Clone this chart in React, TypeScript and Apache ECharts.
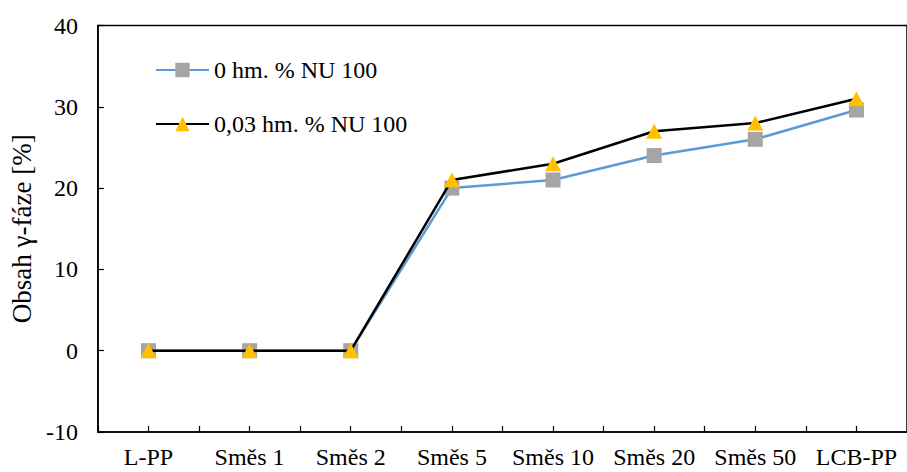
import React, { useEffect, useRef } from "react";
import * as echarts from "echarts";

const categories = ["L-PP", "Směs 1", "Směs 2", "Směs 5", "Směs 10", "Směs 20", "Směs 50", "LCB-PP"];
const series0 = [0, 0, 0, 20, 21, 24, 26, 29.6];
const series003 = [0, 0, 0, 21, 23, 27, 28, 31];
const seriesNames = ["0 hm. % NU 100", "0,03 hm. % NU 100"];
const tickSlots = Array.from({ length: categories.length * 2 }, () => "");
const yTitle = "Obsah γ-fáze [%]";

const FONT = "Liberation Serif";

export default function App() {
  const ref = useRef<HTMLDivElement>(null);
  useEffect(() => {
    if (!ref.current) return;
    const chart = echarts.init(ref.current, null, { renderer: "svg" });
    chart.setOption({
      animation: false,
      backgroundColor: "#ffffff",
      textStyle: { fontFamily: FONT, color: "#000" },
      grid: {
        left: 97,
        top: 25.5,
        bottom: 40,
        right: -3,
        show: true,
        borderColor: "#000",
        borderWidth: 1.5,
        containLabel: false,
      },
      legend: {
        orient: "vertical",
        left: 155,
        top: 58,
        padding: 0,
        itemWidth: 53,
        itemHeight: 18,
        itemGap: 30,
        data: seriesNames,
        textStyle: { fontFamily: FONT, fontSize: 24, color: "#000" },
      },
      xAxis: [
        {
          type: "category",
          data: categories,
          position: "bottom",
          axisLine: { show: true, onZero: false, lineStyle: { color: "#000", width: 1.5 } },
          axisTick: { show: false },
          axisLabel: { fontFamily: FONT, fontSize: 24, color: "#000", margin: 13, interval: 0 },
        },
        {
          type: "category",
          data: tickSlots,
          position: "bottom",
          axisLine: { show: false, onZero: false },
          axisTick: { show: true, inside: true, length: 6, interval: 0, lineStyle: { color: "#000", width: 1.2 } },
          axisLabel: { show: false },
        },
      ],
      yAxis: {
        type: "value",
        min: -10,
        max: 40,
        interval: 10,
        name: yTitle,
        nameLocation: "middle",
        nameGap: 58,
        nameTextStyle: { fontFamily: FONT, fontSize: 27, color: "#000" },
        axisLine: { show: true, lineStyle: { color: "#000", width: 1.5 } },
        axisTick: { show: true, inside: true, length: 6, lineStyle: { color: "#000", width: 1.2 } },
        axisLabel: { fontFamily: FONT, fontSize: 24, color: "#000", margin: 20 },
        splitLine: { show: false },
      },
      series: [
        {
          name: seriesNames[0],
          type: "line",
          data: series0,
          symbol: "rect",
          symbolSize: 15,
          itemStyle: { color: "#A5A5A5" },
          lineStyle: { color: "#5B9BD5", width: 2.5 },
          z: 2,
        },
        {
          name: seriesNames[1],
          type: "line",
          data: series003,
          symbol: "triangle",
          symbolSize: [16, 15],
          itemStyle: { color: "#FFC000" },
          lineStyle: { color: "#000000", width: 2.5 },
          z: 3,
        },
      ],
    });
    return () => chart.dispose();
  }, []);
  return (
    <div
      ref={ref}
      style={{ position: "absolute", left: 0, top: 0, width: 907, height: 472, background: "#fff" }}
    />
  );
}
